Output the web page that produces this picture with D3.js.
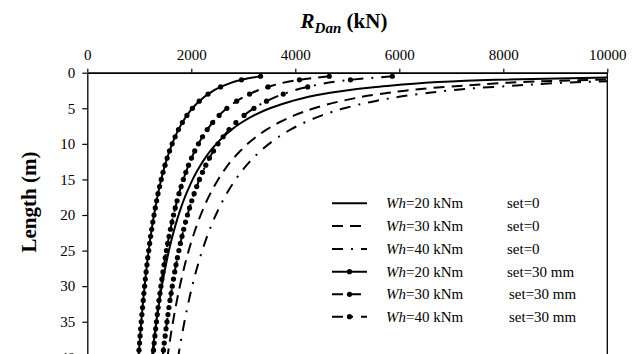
<!DOCTYPE html>
<html>
<head>
<meta charset="utf-8">
<script src="https://cdn.jsdelivr.net/npm/d3@7"></script>
<style>
    body { margin: 0; background: #fff; }
    svg { display: block; font-family: "Liberation Serif", "Times New Roman", serif; }
</style>
</head>
<body>
<div id="chart"></div>
<script>
// pile length (m) at which every curve was read
var lengths = [0.5, 1, 2, 3, 4, 5, 6, 7, 8, 9, 10, 11, 12, 13, 14, 15, 16, 17, 18, 19, 20,
    21, 22, 23, 24, 25, 26, 27, 28, 29, 30, 31, 32, 33, 34, 35, 36, 37, 38, 39, 40];

// R_Dan (kN)
var wh20set0 = [11102, 7850, 5551, 4532, 3925, 3511, 3205, 2967, 2775, 2617, 2482, 2367, 2266, 2177, 2098, 2027,
    1963, 1904, 1850, 1801, 1755, 1713, 1674, 1637, 1602, 1570, 1540, 1511, 1484, 1458, 1433, 1410, 1388, 1367,
    1346, 1327, 1308, 1291, 1273, 1257, 1241];
var wh30set0 = [13789, 9750, 6894, 5629, 4875, 4360, 3980, 3685, 3447, 3250, 3083, 2940, 2815, 2704, 2606, 2517,
    2438, 2365, 2298, 2237, 2180, 2128, 2079, 2033, 1990, 1950, 1912, 1876, 1843, 1811, 1780, 1751, 1724, 1697,
    1672, 1648, 1625, 1603, 1582, 1561, 1542];
var wh40set0 = [15627, 11050, 7813, 6380, 5525, 4942, 4511, 4177, 3907, 3683, 3494, 3332, 3190, 3065, 2953, 2853,
    2763, 2680, 2605, 2535, 2471, 2411, 2356, 2304, 2256, 2210, 2167, 2127, 2088, 2052, 2017, 1985, 1953, 1924,
    1895, 1868, 1842, 1817, 1793, 1769, 1747];
var wh20set30 = [3332, 2964, 2563, 2322, 2152, 2021, 1916, 1828, 1753, 1689, 1632, 1581, 1535, 1494, 1456, 1422,
    1390, 1360, 1333, 1307, 1283, 1260, 1238, 1218, 1199, 1181, 1163, 1147, 1131, 1116, 1102, 1088, 1075, 1062,
    1050, 1038, 1026, 1015, 1005, 994, 985];
var wh30set30 = [4653, 4080, 3475, 3120, 2872, 2684, 2535, 2411, 2306, 2216, 2137, 2066, 2004, 1947, 1895, 1847,
    1804, 1763, 1726, 1691, 1658, 1628, 1599, 1571, 1545, 1521, 1498, 1476, 1455, 1434, 1415, 1397, 1379, 1362,
    1346, 1330, 1315, 1300, 1286, 1273, 1259];
var wh40set30 = [5866, 5061, 4238, 3768, 3446, 3205, 3014, 2857, 2726, 2612, 2514, 2427, 2349, 2279, 2215, 2157,
    2104, 2054, 2009, 1966, 1926, 1889, 1854, 1821, 1790, 1761, 1733, 1706, 1681, 1657, 1634, 1612, 1590, 1570,
    1551, 1532, 1514, 1497, 1480, 1464, 1448];

var xTicks = [0, 2000, 4000, 6000, 8000, 10000];
var yTicks = [0, 5, 10, 15, 20, 25, 30, 35, 40];
var legendWh = ["20", "30", "40", "20", "30", "40"];
var legendSet = ["set=0", "set=0", "set=0", "set=30 mm", "set=30 mm", "set=30 mm"];

var series = [
    { values: wh20set0, dash: null, markers: false },
    { values: wh30set0, dash: "11,7", markers: false },
    { values: wh40set0, dash: "11,8,2,8", markers: false },
    { values: wh20set30, dash: null, markers: true },
    { values: wh30set30, dash: "11,7", markers: true },
    { values: wh40set30, dash: "11,8,2,8", markers: true }
];

var width = 634, height = 354;
// plot box (window.top is reserved, so no bare "top")
var plotLeft = 87.3, plotRight = 607.3, plotTop = 72.7, plotBottom = 357.3;

var svg = d3.select("#chart").append("svg")
    .attr("width", width)
    .attr("height", height);

svg.append("rect").attr("width", width).attr("height", height).attr("fill", "#fff");

var x = d3.scaleLinear().domain([0, 10000]).range([plotLeft, plotRight]);
var y = d3.scaleLinear().domain([0, 40]).range([plotTop, plotBottom]);

svg.append("clipPath").attr("id", "plot-clip")
    .append("rect")
    .attr("x", plotLeft).attr("y", plotTop)
    .attr("width", plotRight - plotLeft).attr("height", plotBottom - plotTop);

// curves
var line = d3.line()
    .x(function (d) { return x(d.r); })
    .y(function (d) { return y(d.l); })
    .curve(d3.curveMonotoneY);

var plot = svg.append("g").attr("clip-path", "url(#plot-clip)");

series.forEach(function (s) {
    var pts = s.values.map(function (v, i) { return { l: lengths[i], r: v }; });
    plot.append("path")
        .attr("d", line(pts))
        .attr("fill", "none")
        .attr("stroke", "#000")
        .attr("stroke-width", 2)
        .attr("stroke-dasharray", s.dash);
    if (s.markers) {
        plot.selectAll(null)
            .data(pts)
            .enter()
            .append("circle")
            .attr("cx", function (d) { return x(d.r); })
            .attr("cy", function (d) { return y(d.l); })
            .attr("r", 2.6)
            .attr("fill", "#000");
    }
});

// right frame line
svg.append("line")
    .attr("x1", plotRight).attr("x2", plotRight)
    .attr("y1", plotTop).attr("y2", plotBottom)
    .attr("stroke", "#000").attr("stroke-width", 1.3);

// axes
var xAxis = svg.append("g")
    .attr("transform", "translate(0," + plotTop + ")")
    .call(d3.axisTop(x).tickValues(xTicks).tickFormat(d3.format("d"))
        .tickSize(4).tickSizeOuter(0).tickPadding(8.5));
xAxis.select(".domain").attr("stroke-width", 1.8);

var yAxis = svg.append("g")
    .attr("transform", "translate(" + plotLeft + ",0)")
    .call(d3.axisLeft(y).tickValues(yTicks).tickFormat(d3.format("d"))
        .tickSize(5).tickSizeOuter(0).tickPadding(7));
yAxis.select(".domain").attr("stroke-width", 1.3);

svg.selectAll(".tick text")
    .attr("font-family", "Liberation Serif")
    .attr("font-size", 15)
    .attr("fill", "#000");
svg.selectAll(".tick line").attr("stroke-width", 1.2);

// titles
var title = svg.append("text")
    .attr("x", 344).attr("y", 28)
    .attr("text-anchor", "middle")
    .attr("font-weight", "bold")
    .attr("font-size", 21);
title.append("tspan").attr("font-style", "italic").text("R");
title.append("tspan").attr("font-style", "italic").attr("font-size", 15).attr("dy", 5).text("Dan");
title.append("tspan").attr("dy", -5).text(" (kN)");

svg.append("text")
    .attr("transform", "translate(36,202) rotate(-90)")
    .attr("text-anchor", "middle")
    .attr("font-weight", "bold")
    .attr("font-size", 21)
    .text("Length (m)");

// legend
var legendY = [203.3, 226, 249, 271.7, 294.3, 316.7];
series.forEach(function (s, i) {
    var g = svg.append("g").attr("transform", "translate(0," + legendY[i] + ")");
    g.append("line")
        .attr("x1", 332).attr("x2", 367)
        .attr("stroke", "#000")
        .attr("stroke-width", 2)
        .attr("stroke-dasharray", s.dash);
    if (s.markers) {
        g.append("circle").attr("cx", 349.5).attr("cy", 0).attr("r", 2.6).attr("fill", "#000");
    }
    var t = g.append("text")
        .attr("x", 386).attr("y", 5)
        .attr("font-size", 15);
    t.append("tspan").attr("font-style", "italic").text("Wh");
    t.append("tspan").text("=" + legendWh[i] + " kNm");
    g.append("text")
        .attr("x", i > 3 ? 509 : 507).attr("y", 5)
        .attr("font-size", 15)
        .text(legendSet[i]);
});
</script>
</body>
</html>
